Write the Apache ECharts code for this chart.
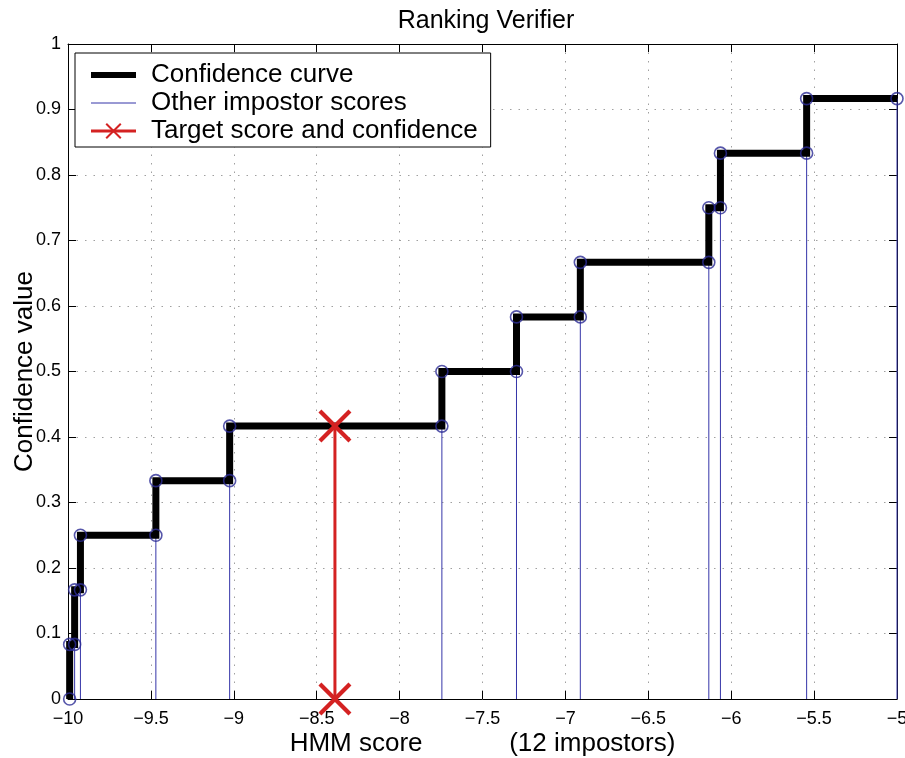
<!DOCTYPE html>
<html>
<head>
<meta charset="utf-8">
<title>Ranking Verifier</title>
<script src="https://cdn.jsdelivr.net/npm/echarts@6/dist/echarts.min.js"></script>
<style>
  html, body { margin: 0; padding: 0; background: #ffffff; }
  #chart { width: 905px; height: 758px; }
</style>
</head>
<body>
<div id="chart"></div>
<script>
// Sorted HMM scores of the 12 impostors
var impostorScores = [-9.99, -9.96, -9.925, -9.47, -9.025, -7.745, -7.295, -6.91, -6.135, -6.065, -5.545, -5.0];
// Confidence reached at each impostor score (rank - 1) / 12
var impostorConfidence = [0, 1/12, 2/12, 3/12, 4/12, 5/12, 6/12, 7/12, 8/12, 9/12, 10/12, 11/12];
// Target claimant
var targetScore = -8.39;
var targetConfidence = 5/12;

var xTicks = { min: -10, max: -5, step: 0.5 };
var yTicks = { min: 0, max: 1, step: 0.1 };

var FONT = '"Liberation Sans", Arial, Helvetica, sans-serif';

// staircase: step taken at the start of each segment
var curveData = impostorScores.map(function (s, i) { return [s, impostorConfidence[i]]; });

// vertical stems from zero up to each impostor's confidence, broken by gaps
var stemData = [];
impostorScores.forEach(function (s, i) {
  stemData.push([s, 0]);
  stemData.push([s, impostorConfidence[i]]);
  stemData.push([s, '-']);
});

// circles at both ends of every rise, plus the last impostor
var circleData = [];
impostorScores.forEach(function (s, i) {
  circleData.push([s, impostorConfidence[i]]);
  if (i + 1 < impostorConfidence.length) circleData.push([s, impostorConfidence[i + 1]]);
});

var targetData = [[targetScore, 0], [targetScore, targetConfidence]];

var crossPath = 'path://M0,0.9L0.9,0L5,4.1L9.1,0L10,0.9L5.9,5L10,9.1L9.1,10L5,5.9L0.9,10L0,9.1L4.1,5Z';

function minusFmt(v) {
  var s = String(+v.toFixed(1));
  return s.replace('-', '\u2212');
}

var gridLine = { show: true, lineStyle: { color: '#a0a0a0', width: 1, type: [1.5, 7] } };
var tickStyle = { show: true, inside: true, length: 8, lineStyle: { color: '#000', width: 1 } };

var chart = echarts.init(document.getElementById('chart'), null, { renderer: 'canvas' });
chart.setOption({
  animation: false,
  backgroundColor: '#ffffff',
  title: {
    text: 'Ranking Verifier',
    left: 481, top: 4, textAlign: 'center',
    textStyle: { fontFamily: FONT, fontSize: 25, fontWeight: 'normal', color: '#000' }
  },
  grid: { left: 68, right: 8, top: 44, bottom: 59, containLabel: false, outerBoundsMode: 'none' },
  legend: {
    orient: 'vertical',
    left: 75, top: 53,
    padding: [9, 13, 3, 13],
    itemWidth: 45, itemHeight: 20, itemGap: 2,
    backgroundColor: '#ffffff',
    borderColor: '#000', borderWidth: 1,
    selectedMode: false,
    textStyle: { fontFamily: FONT, fontSize: 26, color: '#000', padding: [0, 0, 0, 10] },
    data: [
      { name: 'Confidence curve', lineStyle: { width: 6, color: '#000' }, itemStyle: { opacity: 0 } },
      { name: 'Other impostor scores', lineStyle: { width: 1, color: '#3535a8' }, itemStyle: { opacity: 0 } },
      { name: 'Target score and confidence', lineStyle: { width: 3, color: '#d42222' } }
    ]
  },
  xAxis: [{
    type: 'value', min: xTicks.min, max: xTicks.max, interval: xTicks.step,
    position: 'bottom',
    name: 'HMM score            (12 impostors)',
    nameLocation: 'middle', nameGap: 32, nameMoveOverlap: false,
    nameTextStyle: { fontFamily: FONT, fontSize: 26, color: '#000' },
    axisLine: { show: true, onZero: false, lineStyle: { color: '#000', width: 1 } },
    axisTick: tickStyle,
    axisLabel: { fontFamily: FONT, fontSize: 18, color: '#000', margin: 11, formatter: minusFmt },
    splitLine: gridLine
  }, {
    type: 'value', min: xTicks.min, max: xTicks.max, interval: xTicks.step,
    position: 'top',
    axisLine: { show: true, onZero: false, lineStyle: { color: '#000', width: 1 } },
    axisTick: tickStyle,
    axisLabel: { show: false },
    splitLine: { show: false }
  }],
  yAxis: [{
    type: 'value', min: yTicks.min, max: yTicks.max, interval: yTicks.step,
    position: 'left',
    name: 'Confidence value',
    nameLocation: 'middle', nameGap: 30, nameRotate: 90, nameMoveOverlap: false,
    nameTextStyle: { fontFamily: FONT, fontSize: 26, color: '#000' },
    axisLine: { show: true, onZero: false, lineStyle: { color: '#000', width: 1 } },
    axisTick: tickStyle,
    axisLabel: { fontFamily: FONT, fontSize: 18, color: '#000', margin: 7, formatter: minusFmt },
    splitLine: gridLine
  }, {
    type: 'value', min: yTicks.min, max: yTicks.max, interval: yTicks.step,
    position: 'right',
    axisLine: { show: true, onZero: false, lineStyle: { color: '#000', width: 1 } },
    axisTick: tickStyle,
    axisLabel: { show: false },
    splitLine: { show: false }
  }],
  series: [
    {
      name: 'Other impostor scores',
      type: 'line',
      data: stemData,
      connectNulls: false,
      symbol: 'none',
      lineStyle: { color: '#3535a8', width: 1 },
      itemStyle: { color: '#3535a8' },
      z: 2, silent: true
    },
    {
      name: 'Confidence curve',
      type: 'line',
      step: 'start',
      data: curveData,
      symbol: 'none',
      lineStyle: { color: '#000', width: 7, cap: 'butt', join: 'miter' },
      itemStyle: { color: '#000' },
      z: 3, silent: true
    },
    {
      name: 'impostor points',
      type: 'scatter',
      data: circleData,
      symbol: 'circle',
      symbolSize: 12,
      itemStyle: { color: 'rgba(0,0,0,0)', borderColor: '#2c2c95', borderWidth: 1.6 },
      z: 4, silent: true
    },
    {
      name: 'Target score and confidence',
      type: 'line',
      data: targetData,
      symbol: crossPath,
      symbolSize: 33,
      showSymbol: true,
      lineStyle: { color: '#d42222', width: 3 },
      itemStyle: { color: '#d42222' },
      z: 5, silent: true
    }
  ]
});
</script>
</body>
</html>
